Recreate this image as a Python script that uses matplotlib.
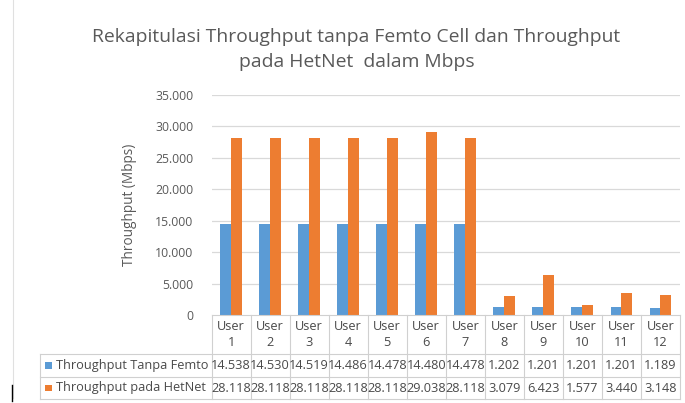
import matplotlib.pyplot as plt
import matplotlib.transforms as mtransforms
from matplotlib.lines import Line2D
from matplotlib.patches import Rectangle
import numpy as np

# data (values in Mbps, dot = thousands style of the original)
users = ['User\n1', 'User\n2', 'User\n3', 'User\n4', 'User\n5', 'User\n6',
         'User\n7', 'User\n8', 'User\n9', 'User\n10', 'User\n11', 'User\n12']
tanpa_femto = [14.538, 14.530, 14.519, 14.486, 14.478, 14.480,
               14.478, 1.202, 1.201, 1.201, 1.201, 1.189]
pada_hetnet = [28.118, 28.118, 28.118, 28.118, 28.118, 29.038,
               28.118, 3.079, 6.423, 1.577, 3.440, 3.148]
series_names = ['Throughput Tanpa Femto', 'Throughput pada HetNet']
yticks = [0, 5, 10, 15, 20, 25, 30, 35]

blue = '#5B9BD5'
orange = '#ED7D31'
grid_c = '#D9D9D9'
txt_c = '#595959'
tbl_c = '#4A4A4A'

plt.rcParams['font.family'] = ['Open Sans', 'DejaVu Sans']

W, H = 685, 403
fig = plt.figure(figsize=(W / 100, H / 100), dpi=100)


def fy(y):
    return 1 - y / H


def fx(x):
    return x / W


# plot area
ax = fig.add_axes([fx(211.5), fy(315), fx(680) - fx(211.5), fy(95) - fy(315)])
x = np.arange(len(users))
bw = 0.28
ax.bar(x - bw / 2, tanpa_femto, bw, color=blue, zorder=3)
ax.bar(x + bw / 2, pada_hetnet, bw, color=orange, zorder=3)
ax.set_xlim(-0.5, len(users) - 0.5)
ax.set_ylim(0, 35)
ax.set_yticks(yticks)
ax.set_yticklabels(['0' if v == 0 else '%.3f' % v for v in yticks],
                   fontsize=8.8, color=txt_c)
ax.tick_params(axis='y', length=0, pad=13)
ax.set_xticks([])
for s in ax.spines.values():
    s.set_visible(False)
for v in yticks[1:]:
    ax.axhline(v, color=grid_c, lw=0.9, zorder=1)
ax.set_ylabel('Throughput (Mbps)', fontsize=9.8, color=txt_c, labelpad=13)

fig.text(0.5 * (fx(93) + fx(620)), fy(37),
         'Rekapitulasi Throughput tanpa Femto Cell dan Throughput',
         ha='center', va='center', fontsize=13.9, color=txt_c)
fig.text(0.5 * (fx(93) + fx(620)), fy(62), 'pada HetNet  dalam Mbps',
         ha='center', va='center', fontsize=13.9, color=txt_c)

# data table below the plot
tr = mtransforms.blended_transform_factory(ax.transData, fig.transFigure)
line_c = '#D0D0D0'
y_top, y_r1, y_r2, y_bot = fy(315), fy(354), fy(377), fy(399)
left_lbl = fx(40)
fs_t = 9.2

fig.add_artist(Line2D([-0.5, len(users) - 0.5], [y_top, y_top], transform=tr, color=line_c, lw=0.8))
for yy in (y_r1, y_r2, y_bot):
    fig.add_artist(Line2D([left_lbl, fx(680)], [yy, yy], color=line_c, lw=0.8))
fig.add_artist(Line2D([left_lbl, left_lbl], [y_r1, y_bot], color=line_c, lw=0.8))
for b in np.arange(len(users) + 1) - 0.5:
    fig.add_artist(Line2D([b, b], [y_top, y_bot], transform=tr, color=line_c, lw=0.8))

for i, lab in enumerate(users):
    top, num = lab.split('\n')
    fig.text(i, fy(326), top, transform=tr, ha='center', va='center', fontsize=fs_t, color=tbl_c)
    fig.text(i, fy(342), num, transform=tr, ha='center', va='center', fontsize=fs_t, color=tbl_c)
    fig.text(i, (y_r1 + y_r2) / 2, '%.3f' % tanpa_femto[i], transform=tr,
             ha='center', va='center', fontsize=fs_t, color=tbl_c)
    fig.text(i, (y_r2 + y_bot) / 2, '%.3f' % pada_hetnet[i], transform=tr,
             ha='center', va='center', fontsize=fs_t, color=tbl_c)

for yc, name, col in [((y_r1 + y_r2) / 2, series_names[0], blue),
                      ((y_r2 + y_bot) / 2, series_names[1], orange)]:
    fig.add_artist(Rectangle((fx(45), yc - 3.3 / H), 6.5 / W, 6.5 / H,
                             transform=fig.transFigure, color=col, lw=0))
    fig.text(fx(56), yc, name, ha='left', va='center', fontsize=fs_t, color=tbl_c)

# chart border on the left and the small mark
fig.add_artist(Line2D([fx(13), fx(13)], [fy(0), fy(398)], color='#E0E0E0', lw=0.8))
fig.add_artist(Line2D([fx(12), fx(12)], [fy(385), fy(401)], color='black', lw=1))

fig.savefig('out.png', dpi=100)
